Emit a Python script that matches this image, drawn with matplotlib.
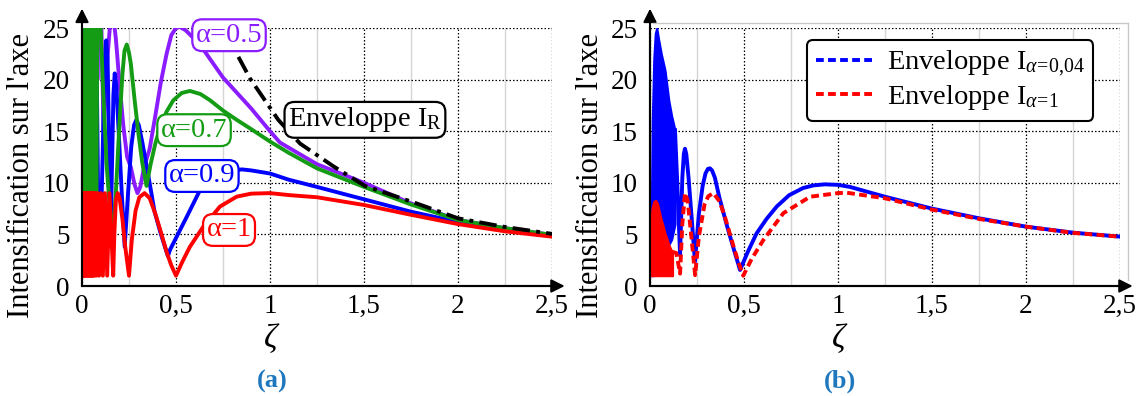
import numpy as np
import matplotlib
matplotlib.use("Agg")
import matplotlib.pyplot as plt
from matplotlib.lines import Line2D

plt.rcParams['font.family'] = ['Liberation Serif', 'DejaVu Serif']
plt.rcParams['mathtext.fontset'] = 'custom'
plt.rcParams['mathtext.rm'] = 'Liberation Serif'
plt.rcParams['mathtext.it'] = 'Liberation Serif:italic'

# ---- data, panel (a) ----
x_a05 = [0.005, 0.009, 0.013, 0.017, 0.021, 0.025, 0.029, 0.033, 0.037, 0.041, 0.046, 0.051, 0.057,
         0.064, 0.072, 0.082, 0.095, 0.115, 0.135, 0.15, 0.167, 0.18, 0.2, 0.22, 0.24, 0.26, 0.28,
         0.295, 0.31, 0.33, 0.36, 0.39, 0.42, 0.45, 0.475, 0.5, 0.52, 0.55, 0.6, 0.65, 0.7,
         0.75, 0.9, 1.0, 1.053, 1.25, 1.5, 1.75, 2.0, 2.25, 2.5]
y_a05 = [35, 23, 35, 23, 35, 23.5, 35, 23, 35, 24, 35, 23, 35,
         22, 34, 20, 32, 15, 22, 25.5, 26, 24, 19.5, 15.5, 12.5, 11.5, 9.8,
         9.0, 9.6, 11.5, 13.3, 16.5, 19.8, 22.5, 24.3, 25.0, 25.1, 24.8, 23.9, 22.8, 21.5,
         20.2, 17.2, 15.0, 13.9, 11.8, 10.0, 8.0, 6.4, 5.6, 4.95]

x_a07 = [0.005, 0.008, 0.011, 0.014, 0.017, 0.02, 0.023, 0.026, 0.029, 0.032, 0.035, 0.038, 0.041,
         0.044, 0.048, 0.052, 0.056, 0.06, 0.065, 0.07, 0.076, 0.083, 0.093, 0.11, 0.13, 0.15,
         0.165, 0.18, 0.2, 0.215, 0.226, 0.238, 0.25, 0.26, 0.28, 0.3, 0.32, 0.343, 0.365, 0.39,
         0.415, 0.45, 0.486, 0.53, 0.574, 0.63, 0.681, 0.75, 0.823, 0.9, 1.0, 1.1, 1.25, 1.5,
         1.75, 2.0, 2.25, 2.5]
y_a07 = [5, 33, 5, 33, 5.5, 33, 5, 33, 5.5, 33, 5, 33, 5.5,
         33, 5, 33, 5.5, 33, 5, 33, 5.5, 32, 28, 20, 12, 7,
         5.2, 9, 16, 20.5, 22.8, 23.4, 22.6, 21.5, 18, 14.8, 12, 9.7, 11.8, 13.8,
         15.4, 16.9, 18.0, 18.7, 18.9, 18.6, 18.0, 17.0, 16.1, 15.2, 14.0, 12.9, 11.4, 9.6,
         7.9, 6.4, 5.6, 4.95]

x_a09 = [0.005, 0.009, 0.013, 0.017, 0.021, 0.025, 0.029, 0.034, 0.039, 0.045, 0.051, 0.058, 0.066,
         0.076, 0.088, 0.1, 0.115, 0.122, 0.129, 0.136, 0.144, 0.152, 0.16, 0.167, 0.174, 0.182,
         0.195, 0.21, 0.227, 0.245, 0.262, 0.277, 0.289, 0.302, 0.32, 0.35, 0.386, 0.42, 0.457,
         0.468, 0.557, 0.628, 0.7, 0.78, 0.85, 0.9, 1.0, 1.1, 1.25, 1.5, 1.75, 2.0, 2.25, 2.5]
y_a09 = [2, 20, 4, 26, 4, 27, 4, 27, 4, 27, 4.5, 26, 5,
         25, 5, 5, 17, 22, 23.8, 22, 14, 4.5, 12, 18.5, 20.6, 19.5,
         15, 9.5, 3.8, 9, 13.5, 15.6, 16.1, 15.6, 14, 11, 7.2, 5.0, 2.9,
         3.5, 6.7, 9.3, 10.5, 11.1, 11.3, 11.2, 10.9, 10.3, 9.6, 8.4, 7.2, 6.2, 5.4, 4.85]

x_a1 = [0.005, 0.008, 0.011, 0.014, 0.017, 0.02, 0.023, 0.026, 0.029, 0.032, 0.035, 0.038, 0.041,
        0.044, 0.047, 0.05, 0.053, 0.056, 0.059, 0.062, 0.066, 0.071, 0.077, 0.083, 0.091, 0.1,
        0.111, 0.122, 0.134, 0.146, 0.166, 0.172, 0.18, 0.19, 0.2, 0.215, 0.23, 0.25,
        0.265, 0.285, 0.305, 0.333, 0.36, 0.39, 0.42, 0.45, 0.475, 0.5, 0.535, 0.574, 0.645,
        0.734, 0.823, 0.9, 1.0, 1.106, 1.25, 1.5, 1.75, 2.0, 2.25, 2.5]
y_a1 = [1, 9, 1, 9, 1, 9, 1, 9, 1, 9, 1, 9, 1,
        9, 1, 9, 1, 9, 1, 9, 1, 9, 1, 9, 1, 9,
        1, 9, 1, 9, 1, 5, 8.3, 9, 8.5, 6.5, 3.8, 1,
        4.5, 7.3, 8.6, 9.0, 8.5, 7.0, 5.2, 3.3, 2.0, 1.0, 2.4, 3.8, 5.75,
        7.7, 8.66, 8.95, 9.0, 8.8, 8.6, 7.85, 6.9, 6.0, 5.3, 4.78]

x_env = [0.832, 0.894, 1.044, 1.16, 1.337, 1.505, 1.78, 2.0, 2.24, 2.5]
y_env = [22.2, 20.1, 16.1, 13.8, 11.6, 9.7, 8.0, 6.56, 5.75, 5.05]

# ---- data, panel (b) ----
# dense oscillation bands near zeta = 0 (upper / lower edges)
x_b004_band = [0.005, 0.012, 0.02, 0.028, 0.036, 0.045, 0.06, 0.08, 0.1, 0.115, 0.133]
hi_b004_band = [3, 16, 22, 24.5, 25, 24, 22.5, 20.9, 18, 16.5, 15.1]
lo_b004_band = [1, 1, 1, 1.5, 2, 2.5, 3, 3.5, 4, 4.5, 6]

x_b1_band = [0.005, 0.01, 0.02, 0.03, 0.04, 0.05, 0.06, 0.07, 0.08, 0.09, 0.1, 0.11, 0.12]
hi_b1_band = [6, 7.5, 8.2, 8.3, 8.0, 7.2, 6.4, 5.8, 5.1, 4.6, 4.0, 3.6, 3.3]
lo_b1_band = [1, 1, 1, 1, 1, 1, 1, 1, 1, 1, 1, 1, 1]

x_b004 = [0.133, 0.145, 0.16, 0.172, 0.18, 0.186, 0.193, 0.205, 0.22, 0.239,
          0.26, 0.28, 0.295, 0.308, 0.319, 0.33, 0.345, 0.37, 0.41, 0.445, 0.479, 0.52, 0.567,
          0.62, 0.674, 0.74, 0.815, 0.87, 0.93, 1.0, 1.064, 1.25, 1.5, 1.75, 2.0, 2.25, 2.5]
y_b004 = [15.1, 10, 3.0, 10.5, 12.8, 13.3, 12.8, 10.5, 7, 2.35,
          7, 9.7, 10.9, 11.35, 11.4, 11.2, 10.5, 8.5, 5.8, 3.6, 1.55, 3.3, 5.1,
          6.5, 7.7, 8.8, 9.5, 9.75, 9.85, 9.8, 9.6, 8.65, 7.5, 6.56, 5.75, 5.17, 4.78]

x_b1 = [0.12, 0.14, 0.16, 0.172, 0.186, 0.2, 0.22, 0.24, 0.26, 0.29, 0.31,
        0.337, 0.37, 0.4, 0.44, 0.47, 0.496, 0.54, 0.603, 0.709, 0.851, 1.0, 1.046, 1.25, 1.5,
        1.75, 2.0, 2.25, 2.5]
y_b1 = [3.3, 3.2, 1.2, 6, 9.0, 8.3, 4.8, 1.05, 4.8, 7.9, 8.7,
        9.0, 8.2, 6.6, 4.1, 2.3, 1.0, 2.6, 4.46, 7.05, 8.65, 9.0, 9.04, 8.5, 7.4,
        6.5, 5.75, 5.15, 4.78]

x_ticks = [0, 0.5, 1, 1.5, 2, 2.5]
x_ticklabels = ['0', '0,5', '1', '1,5', '2', '2,5']
y_ticks = [0, 5, 10, 15, 20, 25]

purple = '#8a1cff'
green = '#149c14'
blue = '#0000ff'
red = '#ff0000'
cap_color = '#1f78be'
LW = 2.8
DASH = (0, (2, 1.1))

fig = plt.figure(figsize=(11.46, 3.96), dpi=100)
W, H = 1146, 396


def setup(ax):
    ax.set_xlim(0, 2.5)
    ax.set_ylim(0, 25)
    ax.set_xticks(x_ticks)
    ax.set_xticklabels(x_ticklabels)
    ax.set_yticks(y_ticks)
    ax.set_xticks(np.arange(0.25, 2.5, 0.5), minor=True)
    ax.tick_params(axis='both', which='both', length=0, labelsize=19.5)
    ax.tick_params(axis='x', pad=6)
    ax.tick_params(axis='y', pad=9)
    ax.grid(True, which='minor', axis='x', color='#d6d6d6', lw=1, ls='-')
    ax.grid(True, which='major', color='k', lw=0.9, ls=(0, (1.2, 1.6)))
    for s in ['top', 'right']:
        ax.spines[s].set_visible(False)
    for s in ['left', 'bottom']:
        ax.spines[s].set_linewidth(1.5)
    ax.annotate('', xy=(1.027, 0), xytext=(0, 0), xycoords='axes fraction',
                arrowprops=dict(arrowstyle='-|>', color='k', lw=1.5, mutation_scale=20,
                                shrinkA=0, shrinkB=0))
    ax.annotate('', xy=(0, 1.075), xytext=(0, 0), xycoords='axes fraction',
                arrowprops=dict(arrowstyle='-|>', color='k', lw=1.5, mutation_scale=20,
                                shrinkA=0, shrinkB=0))
    ax.set_axisbelow(True)


axA = fig.add_axes([82 / W, 1 - 286 / H, 470 / W, 258 / H])
axB = fig.add_axes([650 / W, 1 - 286 / H, 470 / W, 258 / H])
setup(axA)
setup(axB)

# panel (a)
axA.plot(x_a05, y_a05, color=purple, lw=LW)
axA.plot(x_a09, y_a09, color=blue, lw=LW)
axA.plot(x_a07, y_a07, color=green, lw=LW)
axA.plot(x_a1, y_a1, color=red, lw=LW)
axA.plot(x_env, y_env, color='k', lw=LW, ls=(0, (4.5, 1.6, 1, 1.6)))


def label(ax, x, y, s, c):
    ax.text(x, y, s, color=c, fontsize=20.5, ha='center', va='center',
            bbox=dict(boxstyle='round,pad=0.12,rounding_size=0.35', fc='white', ec=c, lw=1.6))


label(axA, 0.782, 24.3, 'α=0.5', purple)
label(axA, 0.596, 15.1, 'α=0.7', green)
label(axA, 0.638, 10.66, 'α=0.9', blue)
label(axA, 0.782, 5.43, 'α=1', red)
label(axA, 1.505, 16.1, r'Enveloppe I$_{\mathrm{R}}$', 'k')

# panel (b)
axB.fill_between(x_b004_band, lo_b004_band, hi_b004_band, color=blue, lw=1.5, edgecolor=blue)
axB.plot(x_b004, y_b004, color=blue, lw=LW)
axB.fill_between(x_b1_band, lo_b1_band, hi_b1_band, color=red, lw=1.5, edgecolor=red)
axB.plot(x_b1, y_b1, color=red, lw=LW, ls=DASH)
handles = [Line2D([], [], color=blue, lw=LW, ls=DASH),
           Line2D([], [], color=red, lw=LW, ls=DASH)]
leg = axB.legend(handles, [r'Enveloppe I$_{\alpha\!=\!0{,}04}$', r'Enveloppe I$_{\alpha\!=\!1}$'],
                 loc='upper right', bbox_to_anchor=(0.943, 0.953), borderaxespad=0,
                 fontsize=20.5, handlelength=2.0, handletextpad=0.5, borderpad=0.3,
                 labelspacing=0.15, fancybox=True, framealpha=1)
leg.get_frame().set_edgecolor('k')
leg.get_frame().set_linewidth(1.5)

# light frame around panel (b)
fig.add_artist(Line2D([653 / W, 1128 / W], [1 - 23 / H, 1 - 23 / H], color='#c8c8c8', lw=1))
fig.add_artist(Line2D([1128 / W, 1128 / W], [1 - 23 / H, 1 - 280 / H], color='#c8c8c8', lw=1))

for cx, tag in [(272, '(a)'), (840, '(b)')]:
    fig.text(cx / W, 1 - 338 / H, r'$\zeta$', fontsize=24, ha='center', va='center')
    fig.text(cx / W, 1 - 381 / H, tag, fontsize=19, fontweight='bold', color=cap_color,
             ha='center', va='center')

for cx in [22, 590]:
    fig.text(cx / W, 1 - 176 / H, "Intensification sur l'axe", fontsize=22, rotation=90,
             ha='center', va='center')

fig.savefig('out.png', dpi=100)
